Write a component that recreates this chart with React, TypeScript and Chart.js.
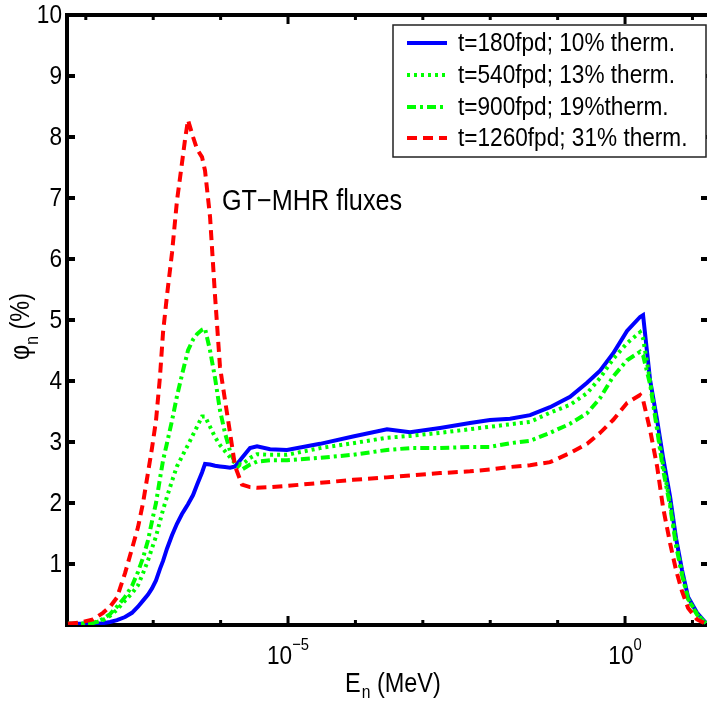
import React, { useEffect, useRef } from "react";
import { Chart, registerables } from "chart.js";

Chart.register(...registerables);

// Neutron energy grid (MeV)
const ENERGY_MEV = [
  5.44e-9, 8.2e-9, 1.28e-8, 1.8e-8, 2.29e-8, 2.9e-8, 3.82e-8, 4.84e-8, 5.94e-8, 7.06e-8,
  8.38e-8, 9.59e-8, 1.1e-7, 1.26e-7, 1.4e-7, 1.6e-7, 1.9e-7, 2.25e-7, 2.67e-7, 2.96e-7,
  3.28e-7, 3.9e-7, 4.47e-7, 5.3e-7, 5.87e-7, 6.97e-7, 8.26e-7, 9.79e-7, 1.16e-6, 1.38e-6,
  1.64e-6, 2.08e-6, 2.73e-6, 3.47e-6, 5.41e-6, 9.66e-6, 2.99e-5, 9.2e-5, 2.94e-4, 6.46e-4,
  1.8e-3, 5.01e-3, 9.93e-3, 1.97e-2, 3.9e-2, 7.71e-2, 0.153, 0.273, 0.426, 0.664,
  1.07, 1.67, 1.85, 2.35, 2.99, 3.66, 4.66, 5.71, 7.01, 8.61,
  11.7, 15.9,
];

// Flux fraction (%) per energy point
const PHI_180 = [
  0.02, 0.02, 0.02, 0.03, 0.05, 0.08, 0.13, 0.2, 0.3, 0.4,
  0.5, 0.6, 0.73, 0.92, 1.05, 1.25, 1.47, 1.66, 1.82, 1.9,
  1.98, 2.13, 2.3, 2.5, 2.64, 2.63, 2.61, 2.6, 2.59, 2.58,
  2.6, 2.74, 2.9, 2.93, 2.88, 2.87, 2.97, 3.09, 3.21, 3.16,
  3.23, 3.31, 3.36, 3.38, 3.44, 3.57, 3.74, 3.97, 4.17, 4.45,
  4.82, 5.05, 5.08, 4.02, 3.36, 2.75, 2.1, 1.42, 0.9, 0.46,
  0.2, 0.03,
];
const PHI_540 = [
  0.02, 0.02, 0.03, 0.08, 0.15, 0.25, 0.4, 0.52, 0.65, 0.85,
  1.06, 1.26, 1.45, 1.7, 1.89, 2.1, 2.36, 2.6, 2.76, 2.86,
  2.95, 3.12, 3.25, 3.42, 3.42, 3.25, 3.08, 2.95, 2.85, 2.75,
  2.65, 2.63, 2.74, 2.8, 2.79, 2.79, 2.9, 2.98, 3.07, 3.1,
  3.15, 3.21, 3.25, 3.29, 3.33, 3.48, 3.61, 3.8, 4.05, 4.36,
  4.62, 4.8, 4.7, 4.0, 3.25, 2.62, 2.0, 1.35, 0.85, 0.43,
  0.18, 0.03,
];
const PHI_900 = [
  0.02, 0.02, 0.03, 0.1, 0.18, 0.3, 0.46, 0.64, 0.87, 1.1,
  1.39, 1.7, 2.0, 2.4, 2.7, 2.98, 3.35, 3.75, 4.1, 4.3,
  4.5, 4.68, 4.77, 4.84, 4.86, 4.5, 4.05, 3.52, 3.15, 2.85,
  2.65, 2.55, 2.63, 2.68, 2.7, 2.7, 2.74, 2.79, 2.87, 2.9,
  2.9, 2.92, 2.92, 2.98, 3.02, 3.15, 3.3, 3.47, 3.72, 4.07,
  4.34, 4.48, 4.42, 3.95, 3.2, 2.55, 1.95, 1.3, 0.82, 0.42,
  0.17, 0.03,
];
const PHI_1260 = [
  0.02, 0.04, 0.09, 0.2, 0.3, 0.45, 0.85, 1.25, 1.6, 2.0,
  2.5, 2.9, 3.35, 4.07, 4.8, 5.4, 6.1, 6.95, 7.57, 7.95,
  8.28, 8.0, 7.8, 7.67, 7.45, 6.69, 5.4, 4.23, 3.69, 3.15,
  2.6, 2.3, 2.26, 2.25, 2.26, 2.28, 2.33, 2.38, 2.42, 2.45,
  2.49, 2.52, 2.55, 2.59, 2.62, 2.67, 2.82, 2.97, 3.15, 3.36,
  3.64, 3.77, 3.69, 3.2, 2.6, 1.93, 1.34, 0.9, 0.55, 0.28,
  0.09, 0.02,
];

const SERIES_LABELS = [
  "t=180fpd; 10% therm.",
  "t=540fpd; 13% therm.",
  "t=900fpd; 19%therm.",
  "t=1260fpd; 31% therm.",
];

const Y_TICKS = [1, 2, 3, 4, 5, 6, 7, 8, 9, 10];
const X_MAJOR = [1e-5, 1];
const X_MAJOR_EXP = ["\u22125", "0"];
const X_MINOR = [1e-8, 1e-7, 1e-6, 1e-4, 1e-3, 1e-2, 1e-1, 10];
const X_MIN = 5.26e-9;
const X_MAX = 17.6;
const ANNOTATION = "GT\u2212MHR fluxes";

const FONT = '"Liberation Sans", Arial, Helvetica, sans-serif';
const SX = 0.87;

const STYLES = [
  { color: "#0000ff", dash: [] as number[] },
  { color: "#00ff00", dash: [3, 4] },
  { color: "#00ff00", dash: [9, 4, 3, 4] },
  { color: "#ff0000", dash: [10, 6] },
];

function drawText(
  ctx: CanvasRenderingContext2D,
  s: string,
  x: number,
  y: number,
  size: number,
  align: CanvasTextAlign = "left",
  baseline: CanvasTextBaseline = "alphabetic"
) {
  ctx.save();
  ctx.font = `${size}px ${FONT}`;
  ctx.textAlign = align;
  ctx.textBaseline = baseline;
  ctx.fillStyle = "#000";
  ctx.translate(x, y);
  ctx.scale(SX, 1);
  ctx.fillText(s, 0, 0);
  ctx.restore();
}

function textW(ctx: CanvasRenderingContext2D, s: string, size: number) {
  ctx.save();
  ctx.font = `${size}px ${FONT}`;
  const w = ctx.measureText(s).width * SX;
  ctx.restore();
  return w;
}

const axesPlugin = {
  id: "matlabAxes",
  beforeDatasetsDraw(chart: any) {
    const { ctx, chartArea: a, scales } = chart;
    const xs = scales.x;
    const ys = scales.y;
    ctx.save();
    ctx.strokeStyle = "#000";
    ctx.lineCap = "butt";
    // box
    ctx.lineWidth = 4;
    ctx.beginPath();
    ctx.moveTo(a.left, a.bottom);
    ctx.lineTo(a.right, a.bottom);
    ctx.moveTo(a.left, a.top);
    ctx.lineTo(a.right, a.top);
    ctx.moveTo(a.left, a.top - 2);
    ctx.lineTo(a.left, a.bottom + 2);
    ctx.moveTo(a.right, a.top - 2);
    ctx.lineTo(a.right, a.bottom + 2);
    ctx.stroke();
    // y ticks
    ctx.lineWidth = 4;
    for (let v = 0; v <= 10; v++) {
      const py = ys.getPixelForValue(v);
      ctx.beginPath();
      ctx.moveTo(a.left, py);
      ctx.lineTo(a.left + 8, py);
      ctx.moveTo(a.right, py);
      ctx.lineTo(a.right - 8, py);
      ctx.stroke();
    }
    // x ticks
    ctx.lineWidth = 3;
    const xt = [
      ...X_MAJOR.map((v) => ({ v, len: 9 })),
      ...X_MINOR.map((v) => ({ v, len: 5 })),
    ];
    for (const t of xt) {
      const px = xs.getPixelForValue(t.v);
      ctx.beginPath();
      ctx.moveTo(px, a.bottom);
      ctx.lineTo(px, a.bottom - t.len);
      ctx.moveTo(px, a.top);
      ctx.lineTo(px, a.top + t.len);
      ctx.stroke();
    }
    ctx.restore();
  },
  afterDraw(chart: any) {
    const { ctx, chartArea: a, scales } = chart;
    const xs = scales.x;
    const ys = scales.y;
    // y tick labels
    for (const v of Y_TICKS) {
      drawText(ctx, String(v), 62, ys.getPixelForValue(v) + 1, 26, "right", "middle");
    }
    // x tick labels 10^k
    X_MAJOR.forEach((v, i) => {
      const px = xs.getPixelForValue(v);
      const wb = textW(ctx, "10", 26);
      const we = textW(ctx, X_MAJOR_EXP[i], 17);
      const left = px - (wb + we) / 2;
      drawText(ctx, "10", left, 664, 26);
      drawText(ctx, X_MAJOR_EXP[i], left + wb, 650, 17);
    });
    // x title
    {
      let x = 345;
      drawText(ctx, "E", x, 692, 27);
      x += textW(ctx, "E", 27);
      drawText(ctx, "n", x + 1, 698, 18);
      x += textW(ctx, "n", 18) + 1;
      drawText(ctx, " (MeV)", x, 692, 27);
    }
    // y title (rotated)
    {
      ctx.save();
      ctx.translate(29, 360);
      ctx.rotate(-Math.PI / 2);
      let x = 0;
      drawText(ctx, "\u03c6", x, 0, 27);
      x += textW(ctx, "\u03c6", 27);
      drawText(ctx, "n", x, 9, 18);
      x += textW(ctx, "n", 18);
      drawText(ctx, " (%)", x, 0, 27);
      ctx.restore();
    }
    // annotation
    drawText(ctx, ANNOTATION, 222, 210, 29);
    // legend
    {
      const bx = 393, by = 25, bw = 313, bh = 132;
      ctx.save();
      ctx.fillStyle = "#fff";
      ctx.fillRect(bx, by, bw, bh);
      ctx.strokeStyle = "#222";
      ctx.lineWidth = 1.5;
      ctx.strokeRect(bx, by, bw, bh);
      const rows = [43, 75, 107, 138];
      SERIES_LABELS.forEach((lab, i) => {
        const y = rows[i];
        ctx.beginPath();
        ctx.strokeStyle = STYLES[i].color;
        ctx.lineWidth = 4;
        ctx.lineCap = "butt";
        ctx.setLineDash(STYLES[i].dash);
        ctx.moveTo(407, y);
        ctx.lineTo(447, y);
        ctx.stroke();
        ctx.setLineDash([]);
        drawText(ctx, lab, 458, y + 1, 26, "left", "middle");
      });
      ctx.restore();
    }
  },
};

export default function App() {
  const ref = useRef<HTMLCanvasElement | null>(null);

  useEffect(() => {
    if (!ref.current) return;
    const series = [PHI_180, PHI_540, PHI_900, PHI_1260];
    const chart = new Chart(ref.current, {
      type: "line",
      data: {
        datasets: series.map((vals, i) => ({
          label: SERIES_LABELS[i],
          data: ENERGY_MEV.map((e, j) => ({ x: e, y: vals[j] })),
          borderColor: STYLES[i].color,
          borderDash: STYLES[i].dash,
          borderWidth: 4,
          borderCapStyle: "butt" as const,
          pointRadius: 0,
          tension: 0,
          fill: false,
          order: 4 - i,
        })),
      },
      options: {
        animation: false,
        responsive: false,
        devicePixelRatio: 1,
        layout: { padding: { left: 67, top: 15, right: 3, bottom: 77 } },
        scales: {
          x: { type: "logarithmic", min: X_MIN, max: X_MAX, display: false },
          y: { type: "linear", min: 0, max: 10, display: false },
        },
        plugins: {
          legend: { display: false },
          tooltip: { enabled: false },
        },
      },
      plugins: [axesPlugin],
    });
    return () => chart.destroy();
  }, []);

  return (
    <div
      style={{
        position: "fixed",
        left: 0,
        top: 0,
        width: 707,
        height: 702,
        overflow: "hidden",
        background: "#fff",
      }}
    >
      <canvas ref={ref} width={712} height={702} style={{ display: "block" }} />
    </div>
  );
}
